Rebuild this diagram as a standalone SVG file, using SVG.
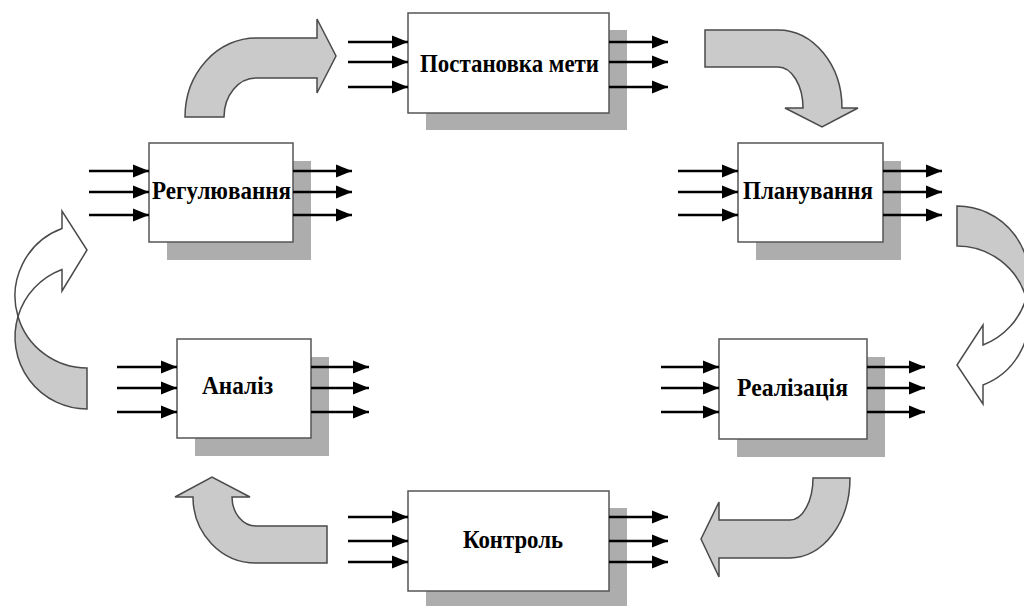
<svg xmlns="http://www.w3.org/2000/svg" width="1024" height="606" viewBox="0 0 1024 606">
<style>
.sh{fill:#adadad;stroke:none}
.bx{fill:#ffffff;stroke:#555555;stroke-width:1.5}
.ln{stroke:#000000;stroke-width:2.5;fill:none;marker-end:url(#ah)}
.lb{font-family:"Liberation Serif","Times New Roman",serif;font-weight:bold;font-size:26px;fill:#000000;text-anchor:middle}
.ba{fill:#cacaca;stroke:#4a4a4a;stroke-width:1.5;stroke-linejoin:miter}
.bw{fill:#ffffff;stroke:#4a4a4a;stroke-width:1.5}
</style>
<defs>
<marker id="ah" markerUnits="userSpaceOnUse" markerWidth="17" markerHeight="14" viewBox="0 0 17 14" refX="16" refY="7" orient="auto">
<path d="M0,0.5 L16,7 L0,13.5 Z" fill="#000000"/>
</marker>
</defs>
<rect width="1024" height="606" fill="#ffffff"/>

<g id="connectors">
<path class="ba" d="M185,117 A71,79 0 0 1 256,38 L317,38 L317,19 L336,56 L317,93 L317,78 L256,78 A32,39 0 0 0 224,117 Z"/>
<path class="ba" d="M705,30 L778,30 A64,78 0 0 1 842,108 L858,108 L822,127 L785,108 L803,108 A25,41 0 0 0 778,67 L705,67 Z"/>
<path class="ba" d="M957,206 A72,72 0 0 1 1026.2,298 A72,72 0 0 0 957,246 Z"/>
<path class="bw" d="M1026.2,298 A72,72 0 0 1 983,345 L983,325 L957,365 L983,404 L983,385 A72,72 0 0 0 1026.2,298 Z"/>
<path class="ba" d="M87,409 A72,72 0 0 1 18,316.5 A72,72 0 0 0 87,368 Z"/>
<path class="bw" d="M18,316.5 A72,72 0 0 1 62,269.5 L62,291 L87,250 L62,211 L62,228.5 A72,72 0 0 0 18,316.5 Z"/>
<path class="ba" d="M327,526 L256,526 A24,29 0 0 1 232,497 L250,497 L212,477 L175,497 L193,497 A63,66 0 0 0 256,563 L327,563 Z"/>
<path class="ba" d="M813,478 L850,478 A60,80 0 0 1 790,558 L719,558 L719,577 L701,539 L719,502 L719,520 L790,520 A23,42 0 0 0 813,478 Z"/>
</g>

<g id="goal">
<rect class="sh" x="426" y="30" width="201" height="100"/>
<rect class="bx" x="408" y="13" width="201" height="100"/>
<line class="ln" x1="348" y1="42" x2="408" y2="42"/>
<line class="ln" x1="348" y1="62" x2="408" y2="62"/>
<line class="ln" x1="348" y1="87" x2="408" y2="87"/>
<line class="ln" x1="609" y1="42" x2="668" y2="42"/>
<line class="ln" x1="609" y1="62" x2="668" y2="62"/>
<line class="ln" x1="609" y1="87" x2="668" y2="87"/>
<text class="lb" x="509.5" y="72" textLength="179" lengthAdjust="spacingAndGlyphs">Постановка мети</text>
</g>

<g id="planning">
<rect class="sh" x="756" y="161" width="145" height="99"/>
<rect class="bx" x="738" y="143" width="145" height="99"/>
<line class="ln" x1="678" y1="171" x2="738" y2="171"/>
<line class="ln" x1="678" y1="192" x2="738" y2="192"/>
<line class="ln" x1="678" y1="215" x2="738" y2="215"/>
<line class="ln" x1="883" y1="171" x2="942" y2="171"/>
<line class="ln" x1="883" y1="192" x2="942" y2="192"/>
<line class="ln" x1="883" y1="215" x2="942" y2="215"/>
<text class="lb" x="808" y="199" textLength="130" lengthAdjust="spacingAndGlyphs">Планування</text>
</g>

<g id="realization">
<rect class="sh" x="737" y="357" width="148" height="100"/>
<rect class="bx" x="719" y="339" width="148" height="100"/>
<line class="ln" x1="661" y1="367" x2="719" y2="367"/>
<line class="ln" x1="661" y1="388" x2="719" y2="388"/>
<line class="ln" x1="661" y1="412" x2="719" y2="412"/>
<line class="ln" x1="867" y1="367" x2="925" y2="367"/>
<line class="ln" x1="867" y1="388" x2="925" y2="388"/>
<line class="ln" x1="867" y1="412" x2="925" y2="412"/>
<text class="lb" x="792.5" y="396" textLength="111" lengthAdjust="spacingAndGlyphs">Реалізація</text>
</g>

<g id="control">
<rect class="sh" x="426" y="508" width="201" height="100"/>
<rect class="bx" x="408" y="491" width="201" height="100"/>
<line class="ln" x1="348" y1="517" x2="408" y2="517"/>
<line class="ln" x1="348" y1="541" x2="408" y2="541"/>
<line class="ln" x1="348" y1="562" x2="408" y2="562"/>
<line class="ln" x1="609" y1="517" x2="668" y2="517"/>
<line class="ln" x1="609" y1="541" x2="668" y2="541"/>
<line class="ln" x1="609" y1="562" x2="668" y2="562"/>
<text class="lb" x="513" y="548" textLength="100" lengthAdjust="spacingAndGlyphs">Контроль</text>
</g>

<g id="analysis">
<rect class="sh" x="195" y="357" width="134" height="99"/>
<rect class="bx" x="177" y="339" width="134" height="99"/>
<line class="ln" x1="117" y1="367" x2="177" y2="367"/>
<line class="ln" x1="117" y1="388" x2="177" y2="388"/>
<line class="ln" x1="117" y1="412" x2="177" y2="412"/>
<line class="ln" x1="311" y1="367" x2="369" y2="367"/>
<line class="ln" x1="311" y1="388" x2="369" y2="388"/>
<line class="ln" x1="311" y1="412" x2="369" y2="412"/>
<text class="lb" x="237.5" y="394" textLength="71" lengthAdjust="spacingAndGlyphs">Аналіз</text>
</g>

<g id="regulation">
<rect class="sh" x="167" y="161" width="144" height="99"/>
<rect class="bx" x="149" y="143" width="144" height="99"/>
<line class="ln" x1="89" y1="171" x2="149" y2="171"/>
<line class="ln" x1="89" y1="192" x2="149" y2="192"/>
<line class="ln" x1="89" y1="215" x2="149" y2="215"/>
<line class="ln" x1="293" y1="171" x2="352" y2="171"/>
<line class="ln" x1="293" y1="192" x2="352" y2="192"/>
<line class="ln" x1="293" y1="215" x2="352" y2="215"/>
<text class="lb" x="221.5" y="199" textLength="139" lengthAdjust="spacingAndGlyphs">Регулювання</text>
</g>
</svg>
